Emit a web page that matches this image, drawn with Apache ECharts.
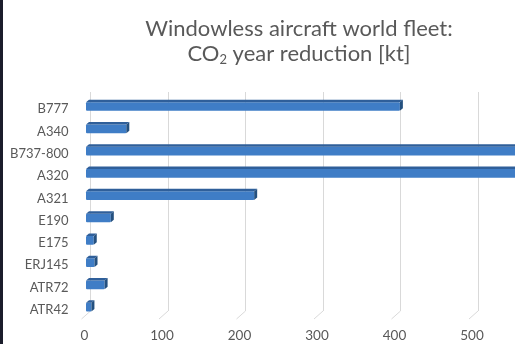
<!DOCTYPE html>
<html lang="en">
<head>
  <meta charset="utf-8">
  <title>Windowless aircraft world fleet</title>
  <style>
    html, body { margin: 0; padding: 0; background: #fff; }
    #container { width: 515px; height: 344px; }
  </style>
</head>
<body>
  <div id="container"></div>
  <script src="https://cdn.jsdelivr.net/npm/echarts@6.0.0/dist/echarts.min.js"></script>
  <script>
    // aircraft types, bottom to top as the category axis draws them
    var aircraft = ['ATR42', 'ATR72', 'ERJ145', 'E175', 'E190', 'A321', 'A320', 'B737-800', 'A340', 'B777'];
    var reduction = [7, 24, 11, 10, 32, 217, 680, 660, 52, 405];
    var gridTicks = [0, 100, 200, 300, 400, 500, 600, 700];

    var textColor = '#595959';
    var DX = 4.5;   // front face shifted left of the back wall
    var DD = 3;     // bar depth

    function renderBar(params, api) {
      var idx = api.value(1);
      var val = api.value(0);
      var p0 = api.coord([0, idx]);
      var p1 = api.coord([val, idx]);
      var x0 = p0[0] - DX;
      var x1 = p1[0] - DX;
      var c = p0[1];
      var ft = c - 7, fb = c + 1.7, tt = c - 9.5;
      return {
        type: 'group',
        children: [
          { type: 'rect', shape: { x: x0, y: ft, width: x1 - x0, height: fb - ft, r: 1 },
            style: { fill: '#3f7dc6' } },
          { type: 'polygon', shape: { points: [[x0, ft], [x0 + DD, tt], [x1 + DD, tt], [x1, ft]] },
            style: { fill: '#2f5f9a' } },
          { type: 'polygon', shape: { points: [[x1, ft], [x1 + DD, tt], [x1 + DD, fb - 2.5], [x1, fb]] },
            style: { fill: '#24507f' } }
        ]
      };
    }

    // little floor strokes at the foot of each gridline
    function renderFloor(params, api) {
      var x = api.coord([api.value(0), 0])[0];
      var cs = params.coordSys;
      var yb = cs.y + cs.height;
      return {
        type: 'line',
        shape: { x1: x, y1: yb, x2: x - 9, y2: yb + 8 },
        style: { stroke: '#d9d9d9', lineWidth: 1 }
      };
    }

    var chart = echarts.init(document.getElementById('container'));
    chart.setOption({
      animation: false,
      textStyle: { fontFamily: 'Lato, "Open Sans", sans-serif' },
      title: {
        text: 'Windowless aircraft world fleet:\nCO{sub|2} year reduction [kt]',
        left: 294,
        top: 11,
        textAlign: 'center',
        textStyle: {
          fontFamily: 'Lato, "Open Sans", sans-serif',
          fontSize: 22,
          fontWeight: 'normal',
          color: textColor,
          lineHeight: 25,
          rich: {
            sub: { fontSize: 13, color: textColor, verticalAlign: 'bottom', lineHeight: 25, padding: [10, 0, 0, 0] }
          }
        }
      },
      graphic: [
        { type: 'rect', left: 0, top: 0, shape: { width: 3, height: 344 }, style: { fill: '#1b1d2b' } }
      ],
      grid: [
        { left: 90.5, right: -118, top: 98, bottom: 23, outerBoundsMode: 'none', containLabel: false },
        { left: 90.5, right: -118, top: 92, bottom: 33, outerBoundsMode: 'none', containLabel: false }
      ],
      xAxis: [
        {
          gridIndex: 0, type: 'value', min: 0, max: 700, interval: 100,
          axisLine: { show: false }, axisTick: { show: false }, splitLine: { show: false },
          axisLabel: { color: textColor, fontSize: 13.5, margin: 8, padding: [0, 12, 0, 0] }
        },
        {
          gridIndex: 1, type: 'value', min: 0, max: 700, interval: 100,
          axisLine: { show: false }, axisTick: { show: false }, axisLabel: { show: false },
          splitLine: { lineStyle: { color: '#d9d9d9', width: 1 } }
        }
      ],
      yAxis: [
        {
          gridIndex: 0, type: 'category', data: aircraft,
          axisLine: { show: false }, axisTick: { show: false },
          axisLabel: { color: textColor, fontSize: 13, margin: 22 }
        },
        {
          gridIndex: 1, type: 'category', data: aircraft, show: false
        }
      ],
      series: [{
        type: 'custom',
        xAxisIndex: 1,
        yAxisIndex: 1,
        renderItem: renderFloor,
        encode: { x: 0 },
        data: gridTicks.map(function (v) { return [v]; })
      }, {
        type: 'custom',
        xAxisIndex: 0,
        yAxisIndex: 0,
        renderItem: renderBar,
        encode: { x: 0, y: 1 },
        data: reduction.map(function (v, i) { return [v, i]; })
      }]
    });
  </script>
</body>
</html>
